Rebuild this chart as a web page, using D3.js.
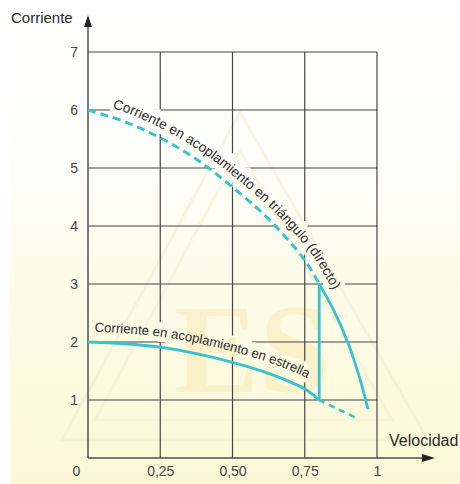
<!DOCTYPE html>
<html>
<head>
<meta charset="utf-8">
<script src="https://cdn.jsdelivr.net/npm/d3@7"></script>
<style>
  html, body { margin: 0; padding: 0; background: #ffffff; }
  svg { display: block; font-family: "Liberation Sans", Arial, Helvetica, sans-serif; }
</style>
</head>
<body>
<svg id="chart" width="460" height="484"></svg>
<script>
// Axis ticks
const speedTicks = [0, 0.25, 0.5, 0.75, 1];
const speedTickLabels = ["0", "0,25", "0,50", "0,75", "1"];
const currentTicks = [1, 2, 3, 4, 5, 6, 7];
const currentTickLabels = ["1", "2", "3", "4", "5", "6", "7"];

// Delta (triangle) connection: direct start, dashed until the switch point
const triangleDashedSpeed   = [0, 0.125, 0.25, 0.375, 0.5, 0.625, 0.75, 0.8];
const triangleDashedCurrent = [6.0, 5.80, 5.52, 5.15, 4.67, 4.12, 3.41, 3.0];
// Delta connection after the switch (solid)
const triangleSolidSpeed    = [0.8, 0.85, 0.9, 0.94, 0.969];
const triangleSolidCurrent  = [3.0, 2.55, 1.98, 1.38, 0.84];

// Star connection: solid until the switch point, dashed beyond it
const starSolidSpeed    = [0, 0.125, 0.25, 0.375, 0.5, 0.625, 0.75, 0.8];
const starSolidCurrent  = [2.0, 1.97, 1.91, 1.80, 1.65, 1.46, 1.19, 1.0];
const starDashedSpeed   = [0.8, 0.866, 0.937];
const starDashedCurrent = [1.0, 0.84, 0.67];

// Star-to-delta switching speed
const switchSpeed = 0.8;

// Curve labels
const triangleLabel = "Corriente en acoplamiento en triángulo (directo)";
const starLabel = "Corriente en acoplamiento en estrella";
const triangleLabelStart = 0.086;
const starLabelStart = 0.025;

const svg = d3.select("#chart");
const W = 460, H = 484;
const x = d3.scaleLinear().domain([0, 1]).range([88, 377]);
const y = d3.scaleLinear().domain([0, 7]).range([458, 52]);

const curveColor = "#36c3cf";
const gridColor = "#454545";

const zip = (xs, ys) => xs.map((v, i) => [v, ys[i]]);
const smooth = d3.line().x(d => x(d[0])).y(d => y(d[1])).curve(d3.curveCatmullRom.alpha(0.5));

// ---- background ----
const defs = svg.append("defs");
const bg = defs.append("linearGradient").attr("id", "bgGrad")
  .attr("gradientUnits", "userSpaceOnUse")
  .attr("x1", 0).attr("y1", 0).attr("x2", 0).attr("y2", H);
bg.append("stop").attr("offset", 0).attr("stop-color", "#ffffff");
bg.append("stop").attr("offset", 0.3).attr("stop-color", "#fefefb");
bg.append("stop").attr("offset", 0.6).attr("stop-color", "#fdfbe8");
bg.append("stop").attr("offset", 1).attr("stop-color", "#fcf8d6");

svg.append("rect").attr("width", W).attr("height", H).attr("fill", "#ffffff");
svg.append("rect").attr("x", 10).attr("width", W - 10).attr("height", H).attr("fill", "url(#bgGrad)");

// ---- faint logo watermark ----
const mark = svg.append("g").attr("fill", "none").attr("opacity", 0.45);
mark.append("path").attr("d", "M240,112 L62,440 L428,440 Z")
  .attr("stroke", "#efe9cf").attr("stroke-width", 3);
mark.append("path").attr("d", "M240,150 L95,420 L392,420 Z")
  .attr("stroke", "#f3eccc").attr("stroke-width", 3);
svg.append("text").attr("x", 252).attr("y", 392)
  .attr("text-anchor", "middle")
  .attr("font-family", "'Liberation Serif', 'DejaVu Serif', serif")
  .attr("font-weight", "bold").attr("font-size", 128)
  .attr("fill", "#f7e8ae").attr("opacity", 0.45)
  .text("ES");

// ---- grid (masked around the curve labels) ----
const gridMask = defs.append("mask").attr("id", "gridMask")
  .attr("maskUnits", "userSpaceOnUse")
  .attr("x", 0).attr("y", 0).attr("width", W).attr("height", H);
gridMask.append("rect").attr("width", W).attr("height", H).attr("fill", "#fff");

const grid = svg.append("g").attr("mask", "url(#gridMask)");
grid.selectAll("line.h").data(currentTicks).join("line")
  .attr("x1", x(0)).attr("x2", x(1))
  .attr("y1", d => y(d)).attr("y2", d => y(d))
  .attr("stroke", gridColor).attr("stroke-width", 1.2);
grid.selectAll("line.v").data(speedTicks.slice(1)).join("line")
  .attr("x1", d => x(d)).attr("x2", d => x(d))
  .attr("y1", y(0)).attr("y2", y(7))
  .attr("stroke", gridColor).attr("stroke-width", 1.2);

// ---- label paths offset from the curves ----
function offsetPoints(points, dist) {
  const tmp = svg.append("path").attr("d", smooth(points)).attr("fill", "none");
  const node = tmp.node();
  const L = node.getTotalLength();
  const out = [];
  for (let s = 0; s <= L; s += 1.5) {
    const p = node.getPointAtLength(s);
    const a = node.getPointAtLength(Math.max(0, s - 1));
    const b = node.getPointAtLength(Math.min(L, s + 1));
    let tx = b.x - a.x, ty = b.y - a.y;
    const n = Math.hypot(tx, ty) || 1;
    tx /= n; ty /= n;
    out.push([p.x + dist * ty, p.y - dist * tx]);
  }
  tmp.remove();
  return out;
}
function lengthToX(pts, xStart) {
  let len = 0;
  for (let i = 1; i < pts.length; i++) {
    if (pts[i][0] >= xStart) return len;
    len += Math.hypot(pts[i][0] - pts[i - 1][0], pts[i][1] - pts[i - 1][1]);
  }
  return len;
}

const trianglePoints = zip(triangleDashedSpeed, triangleDashedCurrent)
  .concat(zip(triangleSolidSpeed, triangleSolidCurrent).slice(1));
const starPoints = zip(starSolidSpeed, starSolidCurrent)
  .concat(zip(starDashedSpeed, starDashedCurrent).slice(1));

const triOff = offsetPoints(trianglePoints, 9);
const starOff = offsetPoints(starPoints, 10.5);
const straight = d3.line();
defs.append("path").attr("id", "triLabelPath").attr("d", straight(triOff));
defs.append("path").attr("id", "starLabelPath").attr("d", straight(starOff));

const labels = [
  { id: "triLabelPath", text: triangleLabel, size: 13.8,
    start: lengthToX(triOff, x(triangleLabelStart)) },
  { id: "starLabelPath", text: starLabel, size: 13.2,
    start: lengthToX(starOff, x(starLabelStart)) }
];

// ---- axes ----
const axisColor = "#4f4f4f";
svg.append("line").attr("x1", x(0)).attr("x2", x(0)).attr("y1", y(0)).attr("y2", 24)
  .attr("stroke", axisColor).attr("stroke-width", 1.5);
svg.append("path").attr("d", `M${x(0)},15 L${x(0) - 4},27 L${x(0) + 4},27 Z`).attr("fill", "#222");
svg.append("line").attr("x1", x(0)).attr("x2", 424).attr("y1", y(0)).attr("y2", y(0))
  .attr("stroke", axisColor).attr("stroke-width", 1.5);
svg.append("path").attr("d", `M435,${y(0)} L422,${y(0) - 4} L422,${y(0) + 4} Z`).attr("fill", "#222");

const yAxis = d3.axisLeft(y).tickValues(currentTicks)
  .tickFormat((d, i) => currentTickLabels[i]).tickSize(0).tickPadding(10);
const gy = svg.append("g").attr("transform", `translate(${x(0)},0)`).call(yAxis);
gy.select(".domain").remove();
gy.selectAll("text").attr("font-size", 14).attr("fill", "#474747")
  .attr("font-family", "'Liberation Sans', Arial, sans-serif");

const xAxis = d3.axisBottom(x).tickValues(speedTicks)
  .tickFormat((d, i) => speedTickLabels[i]).tickSize(0).tickPadding(8);
const gx = svg.append("g").attr("transform", `translate(0,${y(0)})`).call(xAxis);
gx.select(".domain").remove();
gx.selectAll("text").attr("font-size", 14).attr("fill", "#474747")
  .attr("font-family", "'Liberation Sans', Arial, sans-serif")
  .attr("x", d => d === 0 ? -12 : 0);

svg.append("text").attr("x", 11).attr("y", 23)
  .attr("font-size", 15).attr("fill", "#2b2b2b").text("Corriente");
svg.append("text").attr("x", 389).attr("y", 446)
  .attr("font-size", 16).attr("fill", "#2b2b2b").text("Velocidad");

// ---- curves ----
const curves = svg.append("g").attr("fill", "none").attr("stroke", curveColor)
  .attr("stroke-linecap", "butt");
curves.append("path").attr("d", smooth(zip(triangleDashedSpeed, triangleDashedCurrent)))
  .attr("stroke-width", 3).attr("stroke-dasharray", "8,5");
curves.append("path").attr("d", smooth(zip(triangleSolidSpeed, triangleSolidCurrent)))
  .attr("stroke-width", 2.8);
curves.append("path").attr("d", smooth(zip(starSolidSpeed, starSolidCurrent)))
  .attr("stroke-width", 2.8);
curves.append("path").attr("d", smooth(zip(starDashedSpeed, starDashedCurrent)))
  .attr("stroke-width", 2.6).attr("stroke-dasharray", "6,5");
curves.append("line")
  .attr("x1", x(switchSpeed)).attr("x2", x(switchSpeed))
  .attr("y1", y(starSolidCurrent[starSolidCurrent.length - 1]))
  .attr("y2", y(triangleDashedCurrent[triangleDashedCurrent.length - 1]))
  .attr("stroke-width", 2.8);

// ---- curve labels; each glyph clears the grid beneath it ----
labels.forEach(l => {
  const t = svg.append("text")
    .attr("font-size", l.size).attr("fill", "#2e2e2e");
  t.append("textPath").attr("href", "#" + l.id).attr("startOffset", l.start)
    .text(l.text);
  const node = t.node();
  const n = node.getNumberOfChars();
  for (let i = 0; i < n; i++) {
    let box;
    try { box = node.getExtentOfChar(i); } catch (e) { continue; }
    if (!box || box.width === 0) continue;
    const pad = 1.5;
    gridMask.append("rect")
      .attr("x", box.x - pad).attr("y", box.y - pad)
      .attr("width", box.width + 2 * pad).attr("height", box.height + 2 * pad)
      .attr("fill", "#000");
  }
});
</script>
</body>
</html>
